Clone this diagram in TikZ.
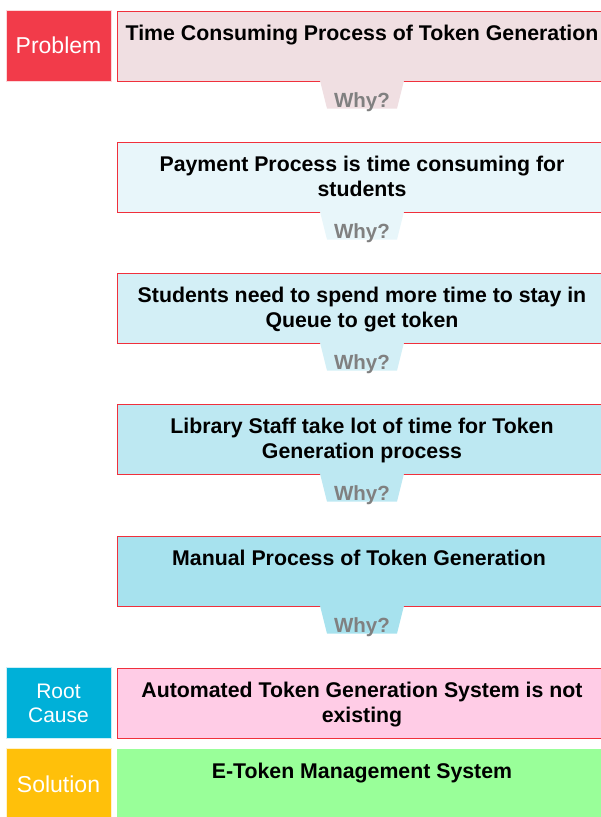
\documentclass[tikz,border=0pt]{standalone}
\usepackage{fontspec}
\setmainfont{Liberation Sans}

\definecolor{probred}{HTML}{F23B4A}
\definecolor{rootblue}{HTML}{00B0D8}
\definecolor{solyellow}{HTML}{FFC00A}
\definecolor{boxred}{HTML}{F0303C}
\definecolor{whygray}{HTML}{808080}
\definecolor{stepA}{HTML}{F0DFE2}
\definecolor{stepB}{HTML}{E8F6FA}
\definecolor{stepC}{HTML}{D3EFF6}
\definecolor{stepD}{HTML}{BDE8F2}
\definecolor{stepE}{HTML}{A7E2EE}
\definecolor{rootpink}{HTML}{FFCCE6}
\definecolor{solgreen}{HTML}{99FF99}

\begin{document}
\begin{tikzpicture}[x=1pt, y=-1pt,
  sidebox/.style={fill=#1, draw=white!80!#1, line width=0.8pt, minimum width=105pt,
    minimum height=71pt, inner sep=0pt, text=white, align=center,
    font=\fontsize{23}{24}\selectfont},
  stepbox/.style={fill=#1, draw=boxred, line width=1pt, minimum width=490pt,
    minimum height=70pt, inner sep=0pt},
  steptext/.style={anchor=north, inner sep=0pt, align=center,
    font=\bfseries\fontsize{21.3}{25}\selectfont},
  whytext/.style={text=whygray, inner sep=0pt,
    font=\bfseries\fontsize{20.5}{24}\selectfont}]
\useasboundingbox (0,0) rectangle (601,817);

% the five why steps
\foreach \n/\yc/\col/\txt in {
  1/46/stepA/{Time Consuming Process of Token Generation},
  2/177/stepB/{Payment Process is time consuming for\\students},
  3/308/stepC/{Students need to spend more time to stay in\\Queue to get token},
  4/439/stepD/{Library Staff take lot of time for Token\\Generation process},
  5/571/stepE/{Manual Process of Token Generation}
  } {
  \node[stepbox=\col] (box\n) at (362,\yc) {};
  \node[steptext] (txt\n) at ([yshift=-14pt]box\n.north) {\txt};
  \fill[\col] ([xshift=-42pt, yshift=0.8pt]box\n.south) -- ([xshift=42pt, yshift=0.8pt]box\n.south)
    -- ([xshift=35pt, yshift=-27pt]box\n.south) -- ([xshift=-35pt, yshift=-27pt]box\n.south) -- cycle;
  \node[whytext] (why\n) at ([yshift=-21pt]box\n.south) {Why?};
}

% root cause and solution
\node[stepbox=rootpink] (root) at (362,703) {};
\node[steptext] (roottxt) at ([yshift=-14pt]root.north) {Automated Token Generation System is not\\existing};
\node[stepbox=solgreen, draw=none] (sol) at (362,784) {};
\node[steptext] (soltxt) at ([yshift=-14pt]sol.north) {E-Token Management System};

% side labels
\node[sidebox=probred] (problem) at (58.5,45.5) {Problem};
\node[sidebox=rootblue, font=\fontsize{21}{24}\selectfont] (cause) at (58.5,703) {Root\\Cause};
\node[sidebox=solyellow] (solution) at (58.5,784) {Solution};
\end{tikzpicture}
\end{document}
